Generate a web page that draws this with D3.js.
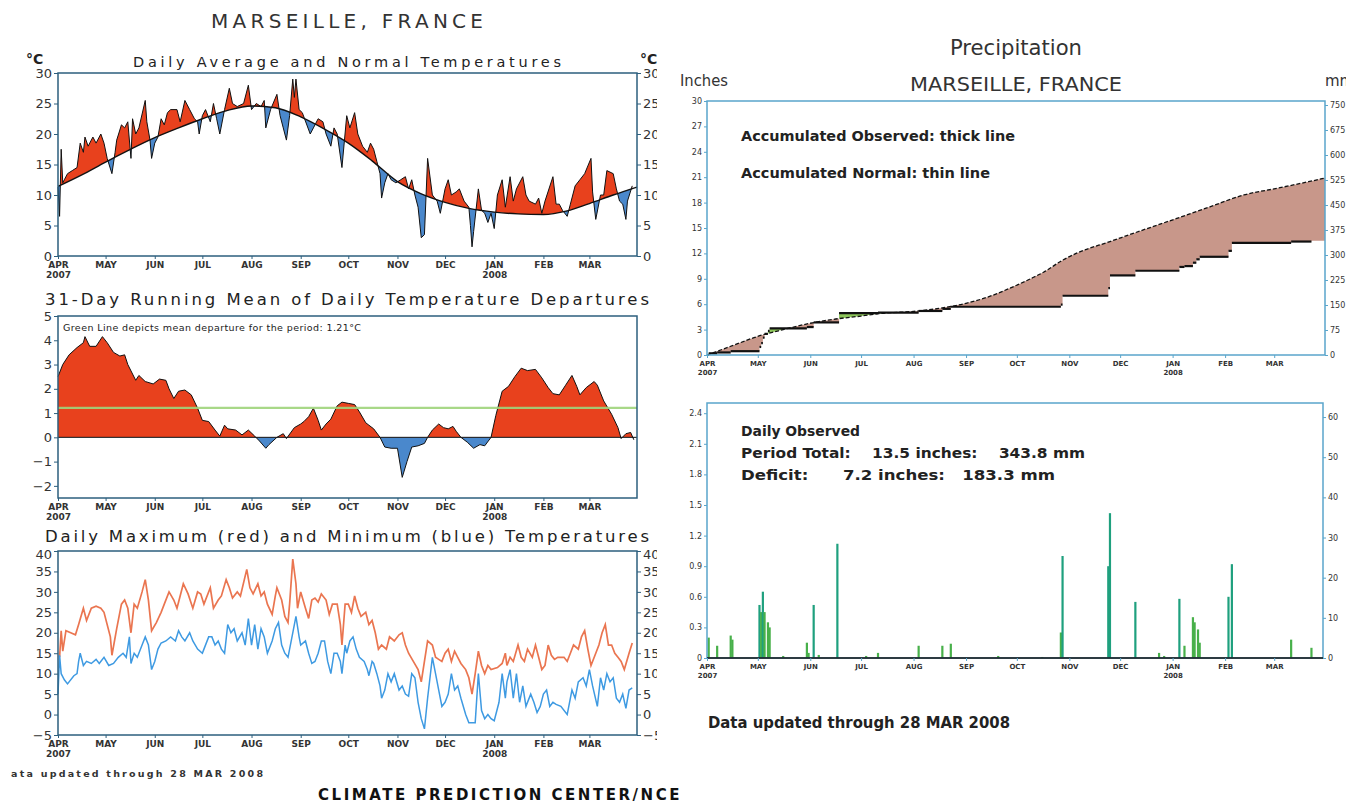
<!DOCTYPE html>
<html>
<head>
<meta charset="utf-8">
<script src="https://cdn.jsdelivr.net/npm/d3@7"></script>
<style>
  body { margin: 0; background: #fff; }
  svg { display: block; }
  text { font-family: "DejaVu Sans", "Liberation Sans", sans-serif; }
</style>
</head>
<body>
<svg id="chart"></svg>
<script>
// ---- data (day offset from 1 APR 2007, value) ----
const monthNames = ["APR","MAY","JUN","JUL","AUG","SEP","OCT","NOV","DEC","JAN","FEB","MAR"];
const yearLabels = ["2007","","","","","","","","","2008","",""];

// daily average temperature (°C)
const avgTemp = [[0,11.3],[1,6.5],[2,17.5],[3,12],[4,12.5],[6,13.5],[9,14],[12,14.5],[14,18.5],[16,17],[17,19.5],[19,18],[21,19],[22,19.5],[24,18.5],[26,19.5],[27,20],[29,18.5],[31,16],[34,13.5],[36,17],[37,19],[40,21.5],[42,21],[44,22],[46,16],[47,22.5],[49,20],[51,21],[55,25.5],[56,22],[58,19],[59,16],[61,18.5],[63,19.5],[65,22.5],[67,21.5],[69,23.5],[71,24],[75,24],[77,22],[80,25.5],[83,24],[86,22.5],[88,22],[89,20],[91,23],[93,24],[96,22],[98,25],[100,22.5],[102,20],[105,24],[108,27.5],[110,25],[113,24.5],[117,25],[120,28],[122,24],[125,25],[128,24.5],[130,25.5],[131,21],[134,24],[138,26.5],[140,23],[142,21],[144,19],[146,23],[148,29],[149,26],[150,29],[152,24],[154,23.5],[159,20],[161,21],[164,22.5],[167,22],[169,20],[172,18],[174,21],[176,20],[179,14.5],[182,23],[184,21],[187,23.5],[189,20],[192,18],[195,17],[197,18.5],[199,17.5],[201,15.5],[203,13.5],[204,9.5],[206,12],[208,13.5],[210,12.5],[213,12],[216,12.5],[219,13],[221,11],[223,12.5],[225,10],[227,8],[229,3],[231,3.5],[233,16],[236,10],[239,9],[241,7],[244,11],[246,12.5],[248,10],[251,10.5],[253,11],[256,9],[259,8],[260,5],[261,1.5],[262,4],[265,11],[267,7.5],[269,7],[271,5.5],[273,7],[275,4.5],[277,10],[280,12.5],[282,8],[285,13],[287,9],[289,11],[293,13],[295,10],[297,9],[301,8.5],[303,9.5],[305,7],[307,9],[312,13],[314,8.5],[316,8.5],[318,7.5],[321,6.5],[323,8.5],[326,11.5],[329,12.5],[332,13.5],[336,16],[337,10.5],[339,6],[342,10],[344,10],[346,14],[350,13.5],[352,11],[354,9],[356,8.5],[358,6],[359,9],[362,11.5]];

// normal daily temperature (°C)
const normalTemp = [[0,11.4],[15,13.3],[30,15.4],[45,17.4],[61,19.4],[76,21],[91,22.5],[106,23.8],[122,24.6],[137,24.3],[153,22.8],[168,20.8],[183,18.5],[198,15.6],[214,12.2],[229,10.2],[244,8.8],[259,7.8],[275,7.2],[290,6.9],[306,6.8],[321,7.4],[335,8.6],[350,10],[365,11.3]];

// 31-day running mean of departures (°C)
const runMean = [[0,2.5],[3,3],[7,3.4],[12,3.7],[16,3.9],[17,4.15],[20,3.75],[24,3.75],[28,4.15],[31,3.9],[35,3.5],[39,3.35],[42,3.4],[44,3],[49,2.35],[51,2.55],[55,2.3],[60,2.2],[64,2.4],[68,2.35],[70,2],[73,1.6],[76,1.9],[80,1.95],[84,1.75],[88,1.2],[91,0.7],[95,0.65],[99,0.3],[102,0.05],[105,0.5],[107,0.35],[112,0.3],[116,0.1],[120,0.3],[124,0.05],[127,-0.15],[131,-0.45],[133,-0.3],[138,0],[142,0.15],[144,-0.05],[149,0.4],[153,0.55],[155,0.65],[158,0.85],[161,1.2],[164,0.7],[166,0.3],[169,0.55],[172,0.75],[176,1.3],[179,1.45],[183,1.4],[187,1.35],[190,1.05],[194,0.6],[196,0.5],[199,0.35],[203,0],[206,-0.4],[210,-0.45],[214,-0.45],[217,-1.65],[220,-1],[223,-0.4],[227,-0.35],[231,-0.25],[233,0],[236,0.3],[240,0.55],[243,0.4],[246,0.35],[249,0.45],[251,0.25],[254,0],[258,-0.2],[262,-0.45],[266,-0.3],[269,-0.35],[273,0],[276,0.9],[280,1.9],[284,2.1],[288,2.5],[292,2.85],[296,2.75],[301,2.8],[305,2.45],[309,2.05],[312,1.8],[316,1.75],[320,2.15],[324,2.55],[327,2.1],[329,1.75],[333,2.05],[338,2.3],[340,2.15],[344,1.5],[349,0.95],[353,0.4],[355,-0.05],[358,0.15],[361,0.2],[363,-0.1]];
const meanDeparture = 1.21;

// daily maximum / minimum temperature (°C)
const maxTemp = [[1,14],[2,20.5],[3,15.5],[5,20.5],[8,20],[11,19.5],[13,22],[16,26],[18,23],[21,26],[24,26.5],[27,26],[29,25],[33,19],[34,14.5],[37,21],[40,27],[42,28],[44,26],[46,20],[48,27],[50,26],[53,30],[55,33],[57,28],[59,20.5],[62,22.5],[65,25],[67,27],[70,30],[73,28],[75,26],[77,29],[79,32],[82,29.5],[85,26],[88,30],[90,29.5],[92,27],[96,31],[98,26],[101,28],[103,29],[106,33],[108,31],[110,28.5],[113,30],[115,29],[119,35.5],[121,31],[123,29.5],[126,32],[128,29],[130,30],[132,27],[135,24.5],[137,29],[138,31],[141,28],[143,24],[145,22.5],[146,27],[148,38],[150,32],[151,26],[153,30],[156,26],[158,23.5],[160,28],[162,28.5],[164,27.5],[166,29.5],[169,28],[171,24.5],[173,27],[176,27],[178,22],[179,17],[181,27],[183,27],[185,25],[187,29],[189,26],[191,24],[194,25],[196,22],[198,23],[200,20],[202,16],[204,17],[207,16],[209,19],[212,18],[215,19.5],[217,20],[219,17],[221,15],[224,13],[227,11],[229,8],[231,13],[233,18],[236,17],[238,14],[240,13.5],[242,13],[244,15],[246,16],[248,13],[250,15.5],[252,14],[254,12.5],[257,11],[259,9],[261,5],[263,10],[265,15.5],[267,12],[269,10],[271,12],[273,11],[277,11.5],[280,12.5],[282,15],[283,12],[285,14],[287,13],[290,17],[292,14],[294,13],[296,16],[299,14],[301,17],[303,14],[305,11],[307,12],[309,17],[311,14.5],[313,13.5],[315,14],[319,14],[321,13],[323,15],[325,17],[328,16],[330,19],[332,20.5],[334,16],[336,12],[339,15],[341,17],[343,20],[345,22],[347,17],[349,17],[351,15],[353,14],[355,13],[357,11],[360,15],[362,17.5]];
const minTemp = [[0,5],[1,14.5],[2,10],[4,8.5],[6,7.5],[10,9.5],[12,10],[13,13],[14,15],[16,12],[18,13],[21,12.5],[24,13.5],[26,12.5],[29,14],[32,12],[35,12.5],[38,14],[41,15],[43,14],[45,19],[46,12.5],[48,15],[50,14],[53,17],[55,19],[57,17],[59,11],[61,13],[63,16],[65,17.5],[68,18],[71,19],[74,18],[76,20.5],[78,19],[80,18],[83,20],[85,18],[88,16],[91,15],[92,16],[95,19],[97,19],[99,17],[101,18],[103,16],[105,15],[107,22],[109,20],[111,21],[113,18],[116,20],[118,17],[120,23.5],[122,17],[124,22],[126,16],[128,21],[130,19],[132,15],[135,18],[137,21],[139,22.5],[141,17],[143,15],[145,14],[148,20],[150,24],[152,19],[153,17],[156,18],[158,15],[160,12.5],[162,13],[164,15],[166,18],[168,18],[170,13],[172,10],[174,15],[176,15],[178,13],[179,10],[181,17],[182,15],[184,18],[186,19],[188,16],[190,14],[193,13],[195,11],[196,9.5],[198,13],[199,12.5],[201,10],[203,7],[204,4],[206,6],[208,10],[210,8],[212,10],[215,6],[217,7],[219,5],[221,4.5],[223,10],[225,9],[227,3],[229,-1],[231,-3.5],[233,4],[236,14],[238,10],[240,6],[242,2],[244,3],[246,5],[248,10],[250,6],[252,7],[254,4],[257,0],[259,-2],[261,-2],[263,-2],[265,10],[267,1],[269,-1],[271,0],[273,-1],[275,-1.5],[278,3],[280,10],[282,4],[283,8],[285,11],[287,4],[289,10],[291,3],[293,7],[295,2],[298,5],[300,3],[302,0.5],[304,2],[306,5],[308,6],[310,2],[312,3],[314,2.5],[317,2],[321,0],[324,6],[326,4],[328,8],[331,9],[333,7],[335,11],[337,7],[340,2],[342,9],[344,6],[346,10],[348,8],[350,9],[352,4],[354,3],[356,5],[358,1.5],[360,6],[362,6.5]];

// accumulated precipitation (inches)
const accNormal = [[0,0],[15,1.1],[30,2.2],[45,3],[61,3.75],[76,4.25],[91,4.6],[102,4.9],[122,5.15],[137,5.5],[153,6.1],[168,7],[179,7.9],[191,9],[199,9.8],[210,11.2],[218,12],[238,13.4],[258,14.8],[277,16.1],[297,17.5],[317,18.9],[337,19.7],[356,20.5],[365,20.9]];
const accObserved = [[0,0],[1,0.2],[6,0.3],[14,0.45],[31,0.95],[32,1.4],[33,2.05],[34,2.5],[36,2.85],[37,3.15],[59,3.3],[63,3.85],[78,4.95],[101,5],[125,5.2],[139,5.45],[144,5.7],[209,5.95],[210,7],[237,7.9],[238,9.4],[253,9.95],[279,10.4],[282,10.5],[287,10.9],[289,11.3],[291,11.6],[308,12.3],[310,13.25],[345,13.4],[357,13.5],[365,13.5]];

// daily observed precipitation (inches)
const dailyPrecip = [[1,0.2],[6,0.12],[14,0.22],[15,0.18],[31,0.52],[32,0.45],[33,0.65],[34,0.45],[36,0.35],[37,0.3],[45,0.02],[59,0.15],[60,0.05],[63,0.52],[66,0.03],[77,1.12],[94,0.02],[101,0.05],[125,0.12],[139,0.12],[144,0.14],[172,0.02],[198,0.01],[209,0.25],[210,1],[237,0.9],[238,1.42],[253,0.55],[267,0.05],[270,0.02],[279,0.58],[282,0.12],[287,0.4],[288,0.35],[290,0.28],[291,0.15],[308,0.6],[310,0.92],[345,0.18],[357,0.1]];

// axis ticks
const avgTicks = [0,5,10,15,20,25,30];
const depTicks = [-2,-1,0,1,2,3,4,5];
const mxTicks = [-5,0,5,10,15,20,25,30,35,40];
const accTicks = [0,3,6,9,12,15,18,21,24,27,30];
const accMmTicks = [0,75,150,225,300,375,450,525,600,675,750];
const dayTicks = [0,0.3,0.6,0.9,1.2,1.5,1.8,2.1,2.4];
const dayMmTicks = [0,10,20,30,40,50,60];

// ---- setup ----
const W = 1346, H = 801;
const RED = "#e8411d", BLUE = "#4a88cc", MAXC = "#ea7550", MINC = "#3e9ae2";
const AXL = "#2d5f7e", AXR = "#5aa5cb";

const start = new Date(2007, 3, 1);
const end = new Date(2008, 2, 31);
const day = d => d3.timeDay.offset(start, d);
const monthTicks = d3.timeMonth.range(start, new Date(2008, 2, 2));

const svg = d3.select("#chart").attr("width", W).attr("height", H);
const defs = svg.append("defs");

const xL = d3.scaleTime().domain([start, end]).range([58, 637]);
const xR = d3.scaleTime().domain([start, end]).range([707, 1325]);

function clipRect(id, x, y, w, h) {
  defs.append("clipPath").attr("id", id).append("rect")
    .attr("x", x).attr("y", y).attr("width", w).attr("height", h);
}
function clipArea(id, d) {
  defs.append("clipPath").attr("id", id).append("path").attr("d", d);
}

function label(g, x, y, str, size, opt = {}) {
  const t = g.append("text").attr("x", x).attr("y", y)
    .attr("font-size", size).attr("fill", opt.fill || "#222")
    .attr("text-anchor", opt.anchor || "start")
    .attr("font-weight", opt.weight || "normal")
    .style("white-space", "pre")
    .text(str);
  if (opt.len) t.attr("textLength", opt.len).attr("lengthAdjust", opt.adjust || "spacing");
  if (opt.family) t.attr("font-family", opt.family);
  return t;
}

function monthAxis(g, x, y0, fs, gap, color) {
  const ax = d3.axisBottom(x).tickValues(monthTicks).tickSize(3).tickPadding(3)
    .tickFormat((d, i) => monthNames[i]);
  const a = g.append("g").attr("transform", `translate(0,${y0})`).call(ax);
  a.select(".domain").remove();
  a.selectAll(".tick line").attr("stroke", color);
  a.selectAll(".tick text").attr("font-size", fs).attr("font-weight", "bold")
    .attr("fill", "#333").attr("font-family", "DejaVu Sans")
    .each(function (d, i) {
      if (yearLabels[i]) d3.select(this).append("tspan").attr("x", 0).attr("dy", gap).text(yearLabels[i]);
    });
}

function yAxis(g, gen, xpos, fs, color) {
  const a = g.append("g").attr("transform", `translate(${xpos},0)`).call(gen);
  a.select(".domain").remove();
  a.selectAll(".tick line").attr("stroke", color);
  a.selectAll(".tick text").attr("font-size", fs).attr("fill", "#333");
  return a;
}
const fmtTemp = d => (d < 0 ? "\u2212" + Math.abs(d) : d);

function frame(g, x0, y0, x1, y1, color) {
  g.append("rect").attr("x", x0).attr("y", y0).attr("width", x1 - x0).attr("height", y1 - y0)
    .attr("fill", "none").attr("stroke", color).attr("stroke-width", 1.5);
}

// ================= LEFT PANEL =================
clipRect("leftClip", 9, 0, 648, H);
const left = svg.append("g").attr("clip-path", "url(#leftClip)");

label(left, 347, 28, "MARSEILLE, FRANCE", 20, { anchor: "middle", len: 272, fill: "#333" });
label(left, 347, 67, "Daily Average and Normal Temperatures", 14.5, { anchor: "middle", len: 428 });
label(left, 26, 64, "°C", 14, { weight: "bold" });
label(left, 640, 64, "°C", 14, { weight: "bold" });

// --- panel 1: daily average vs normal ---
const y1 = d3.scaleLinear().domain([0, 30]).range([256, 73]);
const lx = d => xL(day(d[0]));
clipArea("aboveNormal", d3.area().x(lx).y0(73).y1(d => y1(d[1])).curve(d3.curveMonotoneX)(normalTemp));
clipArea("belowNormal", d3.area().x(lx).y0(256).y1(d => y1(d[1])).curve(d3.curveMonotoneX)(normalTemp));

const p1 = left.append("g");
p1.append("path").attr("clip-path", "url(#aboveNormal)").attr("fill", RED)
  .attr("d", d3.area().x(lx).y0(256).y1(d => y1(d[1]))(avgTemp));
p1.append("path").attr("clip-path", "url(#belowNormal)").attr("fill", BLUE)
  .attr("d", d3.area().x(lx).y0(73).y1(d => y1(d[1]))(avgTemp));
p1.append("path").attr("fill", "none").attr("stroke", "#111").attr("stroke-width", 1)
  .attr("d", d3.line().x(lx).y(d => y1(d[1]))(avgTemp));
p1.append("path").attr("fill", "none").attr("stroke", "#111").attr("stroke-width", 1.4)
  .attr("d", d3.line().x(lx).y(d => y1(d[1])).curve(d3.curveMonotoneX)(normalTemp));
frame(p1, 58, 73, 637, 256, AXL);
yAxis(p1, d3.axisLeft(y1).tickValues(avgTicks).tickSize(4).tickPadding(2), 58, 13, AXL);
yAxis(p1, d3.axisRight(y1).tickValues(avgTicks).tickSize(4).tickPadding(2), 637, 13, AXL);
monthAxis(p1, xL, 256, 9, 10, AXL);

// --- panel 2: running mean of departures ---
label(left, 347, 305, "31-Day Running Mean of Daily Temperature Departures", 16.5, { anchor: "middle", len: 604 });
const y2 = d3.scaleLinear().domain([-2.5, 5]).range([498, 316]);
clipRect("posDep", 58, 316, 579, y2(0) - 316);
clipRect("negDep", 58, y2(0), 579, 498 - y2(0));
const p2 = left.append("g");
const depArea = d3.area().x(lx).y0(y2(0)).y1(d => y2(d[1]));
p2.append("path").attr("clip-path", "url(#posDep)").attr("fill", RED).attr("d", depArea(runMean));
p2.append("path").attr("clip-path", "url(#negDep)").attr("fill", BLUE).attr("d", depArea(runMean));
p2.append("path").attr("fill", "none").attr("stroke", "#111").attr("stroke-width", 1)
  .attr("d", d3.line().x(lx).y(d => y2(d[1]))(runMean));
p2.append("line").attr("x1", 58).attr("x2", 637).attr("y1", y2(0)).attr("y2", y2(0))
  .attr("stroke", "#111").attr("stroke-width", 1);
p2.append("line").attr("x1", 58).attr("x2", 637).attr("y1", y2(meanDeparture)).attr("y2", y2(meanDeparture))
  .attr("stroke", "#9fd47c").attr("stroke-width", 2.2).attr("opacity", 0.9);
label(p2, 63, 331, "Green Line depicts mean departure for the period: 1.21°C", 9.5, { len: 298 });
frame(p2, 58, 316, 637, 498, AXL);
yAxis(p2, d3.axisLeft(y2).tickValues(depTicks).tickFormat(fmtTemp).tickSize(4).tickPadding(2), 58, 13, AXL);
monthAxis(p2, xL, 498, 9, 10, AXL);

// --- panel 3: daily max / min ---
label(left, 347, 542, "Daily Maximum (red) and Minimum (blue) Temperatures", 16.5, { anchor: "middle", len: 604 });
const y3 = d3.scaleLinear().domain([-5, 40]).range([735, 551]);
const p3 = left.append("g");
p3.append("path").attr("fill", "none").attr("stroke", MAXC).attr("stroke-width", 1.7)
  .attr("d", d3.line().x(lx).y(d => y3(d[1]))(maxTemp));
p3.append("path").attr("fill", "none").attr("stroke", MINC).attr("stroke-width", 1.5)
  .attr("d", d3.line().x(lx).y(d => y3(d[1]))(minTemp));
frame(p3, 58, 551, 637, 735, AXL);
yAxis(p3, d3.axisLeft(y3).tickValues(mxTicks).tickFormat(fmtTemp).tickSize(4).tickPadding(2), 58, 13, AXL)
  .selectAll(".tick text").attr("dy", d => d === 40 ? "0.55em" : "0.32em");
yAxis(p3, d3.axisRight(y3).tickValues(mxTicks).tickFormat(fmtTemp).tickSize(4).tickPadding(2), 637, 13, AXL)
  .selectAll(".tick text").attr("dy", d => d === 40 ? "0.55em" : "0.32em");
monthAxis(p3, xL, 735, 9, 10, AXL);

label(left, 1, 777, "Data updated through 28 MAR 2008", 9.5, { len: 262, weight: "bold", fill: "#333" });

clipRect("cpcClip", 0, 770, 679, 40);
label(svg.append("g").attr("clip-path", "url(#cpcClip)"), 318, 800,
  "CLIMATE PREDICTION CENTER/NCEP", 15, { len: 375, weight: "bold", fill: "#111" });

// ================= RIGHT PANEL =================
const right = svg.append("g");
const narrow = "Liberation Sans Narrow, DejaVu Sans Condensed, Liberation Sans, sans-serif";
label(right, 1016, 55, "Precipitation", 21, { anchor: "middle", len: 132, adjust: "spacingAndGlyphs", family: narrow, fill: "#333" });
label(right, 1016, 91, "MARSEILLE, FRANCE", 20, { anchor: "middle", len: 212, adjust: "spacingAndGlyphs", family: narrow, fill: "#333" });
label(right, 680, 86, "Inches", 15, { len: 48, adjust: "spacingAndGlyphs", family: narrow, fill: "#333" });
clipRect("mmClip", 1300, 60, 46, 40);
label(right.append("g").attr("clip-path", "url(#mmClip)"), 1325, 86, "mm", 15, { family: narrow, fill: "#333" });

// --- accumulated precipitation ---
const yA = d3.scaleLinear().domain([0, 30]).range([355, 101]);
const yAmm = d3.scaleLinear().domain([0, 762]).range([355, 101]);
const rx = d => xR(day(d[0]));
clipArea("aboveObs", d3.area().x(rx).y0(101).y1(d => yA(d[1])).curve(d3.curveStepAfter)(accObserved));
clipArea("aboveNorm", d3.area().x(rx).y0(101).y1(d => yA(d[1])).curve(d3.curveMonotoneX)(accNormal));
const pa = right.append("g");
pa.append("path").attr("clip-path", "url(#aboveObs)").attr("fill", "#c8978a")
  .attr("d", d3.area().x(rx).y0(355).y1(d => yA(d[1])).curve(d3.curveMonotoneX)(accNormal));
pa.append("path").attr("clip-path", "url(#aboveNorm)").attr("fill", "#8cc45a")
  .attr("d", d3.area().x(rx).y0(355).y1(d => yA(d[1])).curve(d3.curveStepAfter)(accObserved));
// thick observed line: the flat steps
const steps = d3.pairs(accObserved.slice(0, -1));
pa.selectAll("line.step").data(steps).join("line").attr("class", "step")
  .attr("x1", d => rx(d[0])).attr("x2", d => rx(d[1]))
  .attr("y1", d => yA(d[0][1])).attr("y2", d => yA(d[0][1]))
  .attr("stroke", "#111").attr("stroke-width", 2.2);
pa.append("path").attr("fill", "none").attr("stroke", "#111").attr("stroke-width", 1.3)
  .attr("stroke-dasharray", "4,2")
  .attr("d", d3.line().x(rx).y(d => yA(d[1])).curve(d3.curveMonotoneX)(accNormal));
frame(pa, 707, 101, 1325, 355, AXR);
yAxis(pa, d3.axisLeft(yA).tickValues(accTicks).tickSize(3).tickPadding(2), 707, 8, AXR);
yAxis(pa, d3.axisRight(yAmm).tickValues(accMmTicks).tickSize(3).tickPadding(2), 1325, 8, AXR);
monthAxis(pa, xR, 355, 7, 9, AXR);
label(pa, 741, 141, "Accumulated Observed: thick line", 14, { len: 274, adjust: "spacingAndGlyphs", family: narrow, weight: "bold" });
label(pa, 741, 178, "Accumulated Normal: thin line", 14, { len: 249, adjust: "spacingAndGlyphs", family: narrow, weight: "bold" });

// --- daily observed precipitation ---
const yB = d3.scaleLinear().domain([0, 2.5]).range([658, 403]);
const yBmm = d3.scaleLinear().domain([0, 63.5]).range([658, 403]);
const pb = right.append("g");
pb.selectAll("rect.bar").data(dailyPrecip).join("rect").attr("class", "bar")
  .attr("x", d => rx(d) - 1.1).attr("width", 2.2)
  .attr("y", d => yB(d[1])).attr("height", d => 658 - yB(d[1]))
  .attr("fill", d => d[1] > 0.5 ? "#1fa07e" : "#48b04a");
frame(pb, 707, 403, 1323, 658, AXR);
pb.append("line").attr("x1", 707).attr("x2", 1323).attr("y1", 658).attr("y2", 658)
  .attr("stroke", "#111").attr("stroke-width", 1.6);
yAxis(pb, d3.axisLeft(yB).tickValues(dayTicks).tickFormat(d => d === 0 ? "0" : d3.format(".1f")(d)).tickSize(3).tickPadding(2), 707, 8, AXR);
yAxis(pb, d3.axisRight(yBmm).tickValues(dayMmTicks).tickSize(3).tickPadding(2), 1323, 8, AXR);
monthAxis(pb, xR, 658, 7, 9, AXR);
label(pb, 741, 436, "Daily Observed", 14, { len: 119, adjust: "spacingAndGlyphs", family: narrow, weight: "bold" });
label(pb, 741, 458, "Period Total:    13.5 inches:    343.8 mm", 14, { len: 344, adjust: "spacingAndGlyphs", family: narrow, weight: "bold" });
label(pb, 741, 480, "Deficit:      7.2 inches:   183.3 mm", 14, { len: 314, adjust: "spacingAndGlyphs", family: narrow, weight: "bold" });
label(right, 708, 728, "Data updated through 28 MAR 2008", 15, { len: 302, adjust: "spacingAndGlyphs", family: narrow, weight: "bold" });
</script>
</body>
</html>
